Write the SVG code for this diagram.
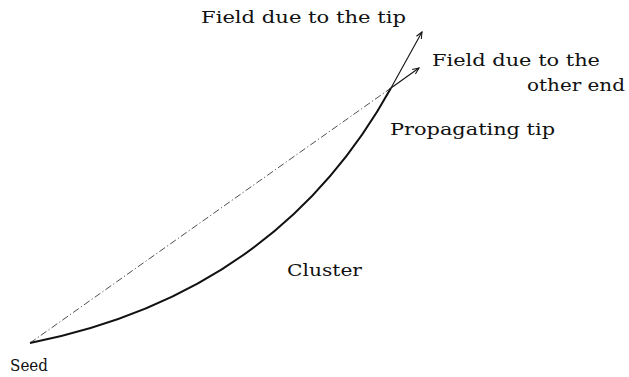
<svg xmlns="http://www.w3.org/2000/svg" width="629" height="377" viewBox="0 0 629 377">
<style>
.t{font-family:"DejaVu Serif","Liberation Serif",serif;font-size:16px;fill:#111}
.arr{fill:none;stroke:#111;stroke-width:1.1}
</style>
<defs>
<marker id="ah" viewBox="0 0 10 10" refX="9" refY="5" markerWidth="8" markerHeight="8" markerUnits="userSpaceOnUse" orient="auto">
<path d="M1,1.5 L9,5 L1,8.5" fill="none" stroke="#111" stroke-width="1.3"/>
</marker>
</defs>
<rect width="629" height="377" fill="#fff"/>
<g id="connectors">
<path id="chord" d="M30,343 L391,88" fill="none" stroke="#222" stroke-width="0.8" stroke-dasharray="7 2.5 1.2 2.5"/>
<path id="cluster-curve" d="M30,343 Q277,294 391,88" fill="none" stroke="#111" stroke-width="2"/>
<path id="field-tip" class="arr" d="M391,88 L422,32" marker-end="url(#ah)"/>
<path id="field-other" class="arr" d="M391,88 L419,68" marker-end="url(#ah)"/>
</g>
<g id="label-tip"><text class="t" x="201" y="23" textLength="205" lengthAdjust="spacingAndGlyphs">Field due to the tip</text></g>
<g id="label-other"><text class="t" x="432" y="66" textLength="168" lengthAdjust="spacingAndGlyphs">Field due to the</text>
<text class="t" x="527" y="91" textLength="98" lengthAdjust="spacingAndGlyphs">other end</text></g>
<g id="label-propagating"><text class="t" x="390" y="135" textLength="165" lengthAdjust="spacingAndGlyphs">Propagating tip</text></g>
<g id="label-cluster"><text class="t" x="287" y="276" textLength="75" lengthAdjust="spacingAndGlyphs">Cluster</text></g>
<g id="label-seed"><text class="t" x="10" y="371" textLength="38" lengthAdjust="spacingAndGlyphs">Seed</text></g>
</svg>
